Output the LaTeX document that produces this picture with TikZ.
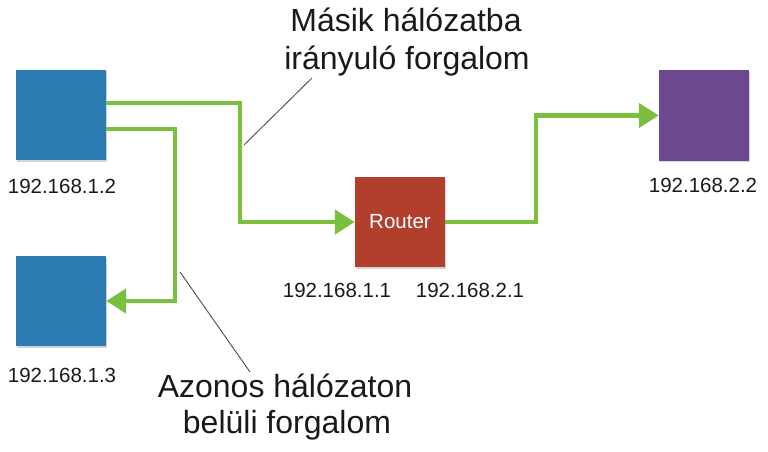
\documentclass[tikz,border=0pt]{standalone}
\usepackage{fontspec}
\setmainfont{Liberation Sans}
\usetikzlibrary{arrows.meta,shadows}
\definecolor{flowgreen}{RGB}{122,191,62}
\definecolor{hostblue}{RGB}{44,122,178}
\definecolor{routerred}{RGB}{178,62,44}
\definecolor{hostpurple}{RGB}{108,72,142}
\definecolor{textgray}{RGB}{25,25,25}
\begin{document}
\begin{tikzpicture}[x=1pt,y=-1pt,
  hostbox/.style={draw=none, minimum width=90pt, minimum height=90pt, inner sep=0pt,
    drop shadow={shadow xshift=1pt,shadow yshift=-1.5pt,opacity=0.35}},
  iplabel/.style={anchor=base, font=\fontsize{20.5}{24}\selectfont, text=textgray},
  bigtext/.style={anchor=base, font=\fontsize{32}{38}\selectfont, text=textgray},
  flow/.style={draw=flowgreen, line width=4.5pt, line join=miter},
  flowarrow/.style={flow, -{Triangle[length=20pt,width=24pt]}},
  callout/.style={draw=black!65, line width=1pt}]
\useasboundingbox (0,0) rectangle (768,452);

% hosts
\node[hostbox, fill=hostblue] (a) at (61,115) {};
\node[hostbox, fill=hostblue] (b) at (61,301) {};
\node[hostbox, fill=routerred, text=white, font=\fontsize{20.5}{24}\selectfont] (r) at (400,222) {Router};
\node[hostbox, fill=hostpurple] (p) at (704,115.5) {};

% ip labels
\node[iplabel] (la) at (62,193) {192.168.1.2};
\node[iplabel] (lb) at (62,382) {192.168.1.3};
\node[iplabel] (lr1) at (337,297) {192.168.1.1};
\node[iplabel] (lr2) at (470,297) {192.168.2.1};
\node[iplabel] (lp) at (703,192) {192.168.2.2};

% flows
\draw[flowarrow] ([yshift=12pt]a.east) -| (240,222) -- (r.west);
\draw[flowarrow] ([yshift=-14pt]a.east) -| (175,301) -- (b.east);
\draw[flowarrow] (r.east) -| (536,115.5) -- (p.west);

% callout texts
\node[bigtext] (t1) at (406,32) {Másik hálózatba};
\node[bigtext] (t2) at (407,70) {irányuló forgalom};
\node[bigtext] (t3) at (285,397) {Azonos hálózaton};
\node[bigtext] (t4) at (287,433) {belüli forgalom};

% callout lines
\coordinate (c1a) at (244,145);
\coordinate (c1b) at (312,78);
\coordinate (c2a) at (180,272);
\coordinate (c2b) at (250,372);
\draw[callout] (c1a) -- (c1b);
\draw[callout] (c2a) -- (c2b);
\end{tikzpicture}
\end{document}
